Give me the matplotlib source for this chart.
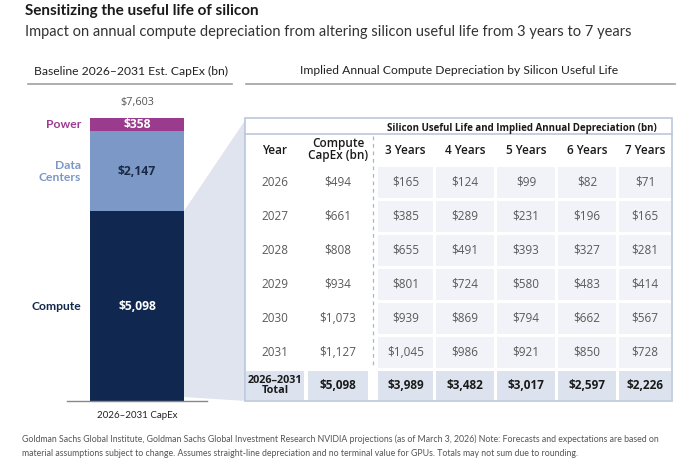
import matplotlib
matplotlib.use("Agg")
import matplotlib.pyplot as plt
from matplotlib.patches import Rectangle, Polygon

# ---- data ----
segments = ["Compute", "Data\nCenters", "Power"]
capex = [5098, 2147, 358]
capex_total = 7603

years = ["2026", "2027", "2028", "2029", "2030", "2031"]
compute_capex = [494, 661, 808, 934, 1073, 1127]
life_labels = ["3 Years", "4 Years", "5 Years", "6 Years", "7 Years"]
dep_3y = [165, 385, 655, 801, 939, 1045]
dep_4y = [124, 289, 491, 724, 869, 986]
dep_5y = [99, 231, 393, 580, 794, 921]
dep_6y = [82, 196, 327, 483, 662, 850]
dep_7y = [71, 165, 281, 414, 567, 728]
depreciation = [dep_3y, dep_4y, dep_5y, dep_6y, dep_7y]
total_capex = 5098
total_dep = [3989, 3482, 3017, 2597, 2226]

seg_colors = ["#10284f", "#7c98c6", "#9a3b8e"]
seg_text = ["white", "#1b2a44", "white"]
label_colors = ["#13294b", "#7b97c6", "#9b3b8f"]

FONT = "Lato"
TFONT = "Open Sans"
TS = 8.5  # table text size

W, H = 680, 470
fig = plt.figure(figsize=(W / 100, H / 100), dpi=100)

# overlay axes in pixel coordinates
ov = fig.add_axes([0, 0, 1, 1])
ov.set_xlim(0, W)
ov.set_ylim(H, 0)
ov.axis("off")

ov.text(25, 11, "Sensitizing the useful life of silicon", fontsize=11,
        fontweight="bold", family=FONT, color="#1a1a1a", va="center")
ov.text(25, 32, "Impact on annual compute depreciation from altering silicon useful life from 3 years to 7 years",
        fontsize=10.5, family=FONT, color="#333333", va="center")

ov.text(131, 71, "Baseline 2026\u20132031 Est. CapEx (bn)", fontsize=8.7, family=FONT,
        color="#222222", ha="center", va="center")
ov.plot([28, 232], [84, 84], color="#a0a0a0", lw=1.2)
ov.text(459, 71, "Implied Annual Compute Depreciation by Silicon Useful Life", fontsize=8.7,
        family=FONT, color="#222222", ha="center", va="center")
ov.plot([246, 675], [84, 84], color="#a0a0a0", lw=1.2)

# zoom shading from compute segment to table
ov.add_patch(Polygon([(184, 211), (246, 119), (246, 401), (184, 397)],
                     closed=True, facecolor="#dfe4ef", edgecolor="none", zorder=1))

# table
tx0, tx1, ty0, ty1 = 245, 672, 118, 401
ov.add_patch(Rectangle((tx0, ty0), tx1 - tx0, ty1 - ty0, facecolor="white",
                       edgecolor="#bcc7dc", lw=1.2, zorder=2))
ov.plot([tx0, tx1], [134, 134], color="#bcc7dc", lw=1.2, zorder=3)
ov.text(522, 128, "Silicon Useful Life and Implied Annual Depreciation (bn)", fontsize=7.0,
        fontweight="bold", family=TFONT, color="#1a1a1a", ha="center", va="center", zorder=4)

left_cols = [(246, 304), (308, 368)]
data_cols = [(378, 433), (436, 494), (497, 555), (558, 616), (619, 671)]
row_tops = [167, 201, 235, 269, 303, 337]
row_h = 31

hdr_y = 150
ov.text(sum(left_cols[0]) / 2, hdr_y, "Year", fontsize=TS, fontweight="semibold",
        family=TFONT, color="#1a1a1a", ha="center", va="center", zorder=4)
ov.text(sum(left_cols[1]) / 2, hdr_y, "Compute\nCapEx (bn)", fontsize=TS, fontweight="semibold",
        family=TFONT, color="#1a1a1a", ha="center", va="center", linespacing=0.9, zorder=4)
for (c0, c1), lab in zip(data_cols, life_labels):
    ov.text((c0 + c1) / 2, hdr_y, lab, fontsize=TS, fontweight="semibold", family=TFONT,
            color="#1a1a1a", ha="center", va="center", zorder=4)

ov.plot([373, 373], [136, 368], color="#a9b6cf", lw=0.9, ls=(0, (3, 3)), zorder=3)

for i, yr in enumerate(years):
    top = row_tops[i]
    cy = top + row_h / 2
    ov.text(sum(left_cols[0]) / 2, cy, yr, fontsize=TS, family=TFONT, color="#5a5a5a",
            ha="center", va="center", zorder=4)
    ov.text(sum(left_cols[1]) / 2, cy, f"${compute_capex[i]:,}", fontsize=TS, family=TFONT,
            color="#5a5a5a", ha="center", va="center", zorder=4)
    for (c0, c1), series in zip(data_cols, depreciation):
        ov.add_patch(Rectangle((c0, top), c1 - c0, row_h, facecolor="#f1f3f8",
                               edgecolor="none", zorder=3))
        ov.text((c0 + c1) / 2, cy, f"${series[i]:,}", fontsize=TS, family=TFONT,
                color="#5a5a5a", ha="center", va="center", zorder=4)

# total row
ttop, tbot = 371, 400
tcy = (ttop + tbot) / 2
for (c0, c1) in left_cols + data_cols:
    ov.add_patch(Rectangle((c0, ttop), c1 - c0, tbot - ttop, facecolor="#dce3ef",
                           edgecolor="none", zorder=3))
ov.text(sum(left_cols[0]) / 2, tcy, "2026\u20132031\nTotal", fontsize=7.8, fontweight="bold",
        family=TFONT, color="#1a1a1a", ha="center", va="center", linespacing=0.85, zorder=4)
ov.text(sum(left_cols[1]) / 2, tcy, f"${total_capex:,}", fontsize=TS, fontweight="bold",
        family=TFONT, color="#1a1a1a", ha="center", va="center", zorder=4)
for (c0, c1), v in zip(data_cols, total_dep):
    ov.text((c0 + c1) / 2, tcy, f"${v:,}", fontsize=TS, fontweight="bold", family=TFONT,
            color="#1a1a1a", ha="center", va="center", zorder=4)

# footnote
ov.text(22, 439, "Goldman Sachs Global Institute, Goldman Sachs Global Investment Research NVIDIA projections "
        "(as of March 3, 2026) Note: Forecasts and expectations are based on",
        fontsize=6.3, family=FONT, color="#555555", va="center")
ov.text(22, 453, "material assumptions subject to change. Assumes straight-line depreciation and no terminal "
        "value for GPUs. Totals may not sum due to rounding.",
        fontsize=6.3, family=FONT, color="#555555", va="center")

# ---- stacked bar ----
bx0, bx1, by_top, by_bot = 67, 207, 118, 401
bax = fig.add_axes([bx0 / W, (H - by_bot) / H, (bx1 - bx0) / W, (by_bot - by_top) / H])
bax.set_facecolor("none")
bax.set_xlim(-0.5, 0.5)
bax.set_ylim(0, capex_total)
bar_w = 94 / 140
bottom = 0
for name, val, col, tcol, lcol in zip(segments, capex, seg_colors, seg_text, label_colors):
    bax.bar(0, val, width=bar_w, bottom=bottom, color=col, edgecolor="none")
    mid = bottom + val / 2
    bax.text(0, mid, f"${val:,}", fontsize=8.7, fontweight="bold", family=TFONT,
             color=tcol, ha="center", va="center")
    bax.text(-0.4, mid, name, fontsize=8.7, fontweight="bold", family=FONT, color=lcol,
             ha="right", va="center", linespacing=1.05, clip_on=False)
    bottom += val
bax.text(0, capex_total + 420, f"${capex_total:,}", fontsize=7.8, family=TFONT,
         color="#555555", ha="center", va="center", clip_on=False)

for s in ["top", "left", "right"]:
    bax.spines[s].set_visible(False)
bax.spines["bottom"].set_color("#888888")
bax.spines["bottom"].set_linewidth(1.0)
bax.set_yticks([])
bax.set_xticks([0])
bax.set_xticklabels(["2026\u20132031 CapEx"], fontsize=7.0, family=FONT, color="#222222")
bax.tick_params(axis="x", length=0, pad=7)

fig.savefig("out.png", dpi=100)
